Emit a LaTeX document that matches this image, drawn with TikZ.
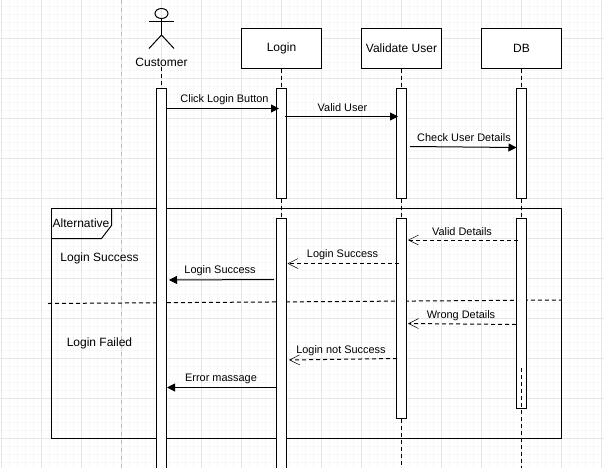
\documentclass[tikz,border=0pt]{standalone}
\usepackage{xcolor}
\usepackage{fontspec}
\setmainfont{Liberation Sans}
\usetikzlibrary{arrows.meta, shapes.geometric}
\definecolor{gridminor}{HTML}{F7F7F7}
\definecolor{gridmajor}{HTML}{E6E6E6}
\definecolor{guide}{HTML}{BDBDBD}

\begin{document}
\begin{tikzpicture}[
        x=0.75pt,
        y=-0.75pt,
        font=\fontsize{9}{11}\selectfont,
        line width=0.75pt,
        actorbox/.style={
            draw=black,
            fill=white,
            minimum width=60pt,
            minimum height=30pt,
            inner sep=0pt
        },
        activation/.style={
            draw=black,
            fill=white,
            minimum width=7.5pt,
            inner sep=0pt
        },
        lifeline/.style={draw=black, dash pattern=on 3pt off 2.25pt},
        message/.style={-{Triangle[length=6pt, width=6pt]}, draw=black},
        reply/.style={-{Straight Barb[length=7.5pt, width=7.5pt, line width=0.4pt]}, draw=black, dash pattern=on 3pt off 2.25pt},
        msglabel/.style={inner sep=0pt, font=\fontsize{8.2}{10}\selectfont}
    ]
        \useasboundingbox (0,0) rectangle (604,468);
        \fill[white] (0,0) rectangle (604,468);

        % grid
        \foreach \gx in {1.5,9.5,...,604}
            \draw[gridminor, line width=0.5pt] (\gx,0) -- (\gx,468);
        \foreach \gy in {6.5,14.5,...,468}
            \draw[gridminor, line width=0.5pt] (0,\gy) -- (604,\gy);
        \foreach \gx in {1.5,41.5,...,604}
            \draw[gridmajor, line width=0.75pt] (\gx,0) -- (\gx,468);
        \foreach \gy in {38.5,78.5,...,468}
            \draw[gridmajor, line width=0.75pt] (0,\gy) -- (604,\gy);
        \coordinate (guidetop) at (121.5,0);
        \coordinate (guidebottom) at (121.5,468);
        \draw[guide, dashed] (guidetop) -- (guidebottom);

        % frame
        \node[draw=black, minimum width=382.5pt, minimum height=172.5pt, inner sep=0pt] (frame) at (306.5,323.5) {};
        \coordinate (tabA) at (111.5,208.5);
        \coordinate (tabB) at (111.5,225.5);
        \coordinate (tabC) at (101.5,238.5);
        \coordinate (tabD) at (51.5,238.5);
        \draw (tabA) -- (tabB) -- (tabC) -- (tabD);
        \node[inner sep=0pt] (alt) at (81,223) {Alternative};
        \coordinate (divideL) at (48,303.5);
        \coordinate (divideR) at (561.5,300);
        \draw[lifeline] (divideL) -- (divideR);

        % participants
        \node[actorbox] (login) at (281.5,48.5) {\raisebox{-0.75pt}{Login}};
        \node[actorbox] (validate) at (401.5,48.5) {\raisebox{-0.75pt}{Validate User}};
        \node[actorbox] (db) at (521.5,48.5) {\raisebox{-0.75pt}{DB}};

        \node[draw=black, ellipse, minimum width=9.75pt, minimum height=7.5pt, inner sep=0pt] (head) at (161.5,13.5) {};
        \coordinate (hip) at (161.5,35);
        \coordinate (armL) at (149,21);
        \coordinate (armR) at (174,21);
        \coordinate (legL) at (149,48.5);
        \coordinate (legR) at (174,48.5);
        \draw (head.south) -- (hip);
        \draw (armL) -- (armR);
        \draw (legL) -- (hip) -- (legR);
        \node[inner sep=0pt] (customer) at (161.5,62) {Customer};

        % activation bars
        \node[activation, minimum height=285pt] (customerbar) at (161.5,278.5) {};
        \node[activation, minimum height=82.5pt] (loginbarA) at (281.5,143.5) {};
        \node[activation, minimum height=195pt] (loginbarB) at (281.5,348.5) {};
        \node[activation, minimum height=82.5pt] (validatebarA) at (401.5,143.5) {};
        \node[activation, minimum height=150pt] (validatebarB) at (401.5,318.5) {};
        \node[activation, minimum height=82.5pt] (dbbarA) at (521.5,143.5) {};
        \node[activation, minimum height=142.5pt] (dbbarB) at (521.5,313.5) {};

        \coordinate (validateend) at (401.5,468);
        \coordinate (dbend) at (521.5,468);
        \coordinate (dbinner) at (521.5,368);
        \draw[lifeline] (customer.south) -- (customerbar.north);
        \draw[lifeline] (login.south) -- (loginbarA.north);
        \draw[lifeline] (loginbarA.south) -- (loginbarB.north);
        \draw[lifeline] (validate.south) -- (validatebarA.north);
        \draw[lifeline] (validatebarA.south) -- (validatebarB.north);
        \draw[lifeline] (validatebarB.south) -- (validateend);
        \draw[lifeline] (db.south) -- (dbbarA.north);
        \draw[lifeline] (dbbarA.south) -- (dbbarB.north);
        \draw[lifeline] (dbinner) -- (dbend);

        % message ends
        \coordinate (clickS) at (166.5,108.5);
        \coordinate (clickE) at (279,108.5);
        \coordinate (validS) at (285,116.5);
        \coordinate (validE) at (398,116.5);
        \coordinate (checkS) at (410,146.5);
        \coordinate (checkE) at (516.5,147.5);
        \coordinate (detailsS) at (518,240);
        \coordinate (detailsE) at (408,240);
        \coordinate (successS) at (399,263.5);
        \coordinate (successE) at (287.5,263.5);
        \coordinate (customerS) at (274,279.5);
        \coordinate (customerE) at (169,280);
        \coordinate (wrongS) at (516,324.5);
        \coordinate (wrongE) at (408,323.5);
        \coordinate (failS) at (397,358.5);
        \coordinate (failE) at (289,360);
        \coordinate (errorS) at (276,387.5);
        \coordinate (errorE) at (167,387.5);

        \draw[message] (clickS) -- (clickE);
        \draw[message] (validS) -- (validE);
        \draw[message] (checkS) -- (checkE);
        \draw[reply] (detailsS) -- (detailsE);
        \draw[reply] (successS) -- (successE);
        \draw[message] (customerS) -- (customerE);
        \draw[reply] (wrongS) -- (wrongE);
        \draw[reply] (failS) -- (failE);
        \draw[message] (errorS) -- (errorE);

        \node[msglabel] (clicklabel) at (224.5,100) {Click Login Button};
        \node[msglabel] (validlabel) at (342.5,107.5) {Valid User};
        \node[msglabel] (checklabel) at (464,137.5) {Check User Details};
        \node[msglabel] (detailslabel) at (462,231.5) {Valid Details};
        \node[msglabel] (successlabel) at (342.5,255) {Login Success};
        \node[msglabel] (customerlabel) at (220,271) {Login Success};
        \node[msglabel] (wronglabel) at (461,316) {Wrong Details};
        \node[msglabel] (faillabel) at (341,351) {Login not Success};
        \node[msglabel] (errorlabel) at (221,379) {Error massage};

        \node[inner sep=0pt] (casesuccess) at (99.5,258.5) {Login Success};
        \node[inner sep=0pt] (casefailed) at (99.5,343.5) {Login Failed};
    \end{tikzpicture}
\end{document}
